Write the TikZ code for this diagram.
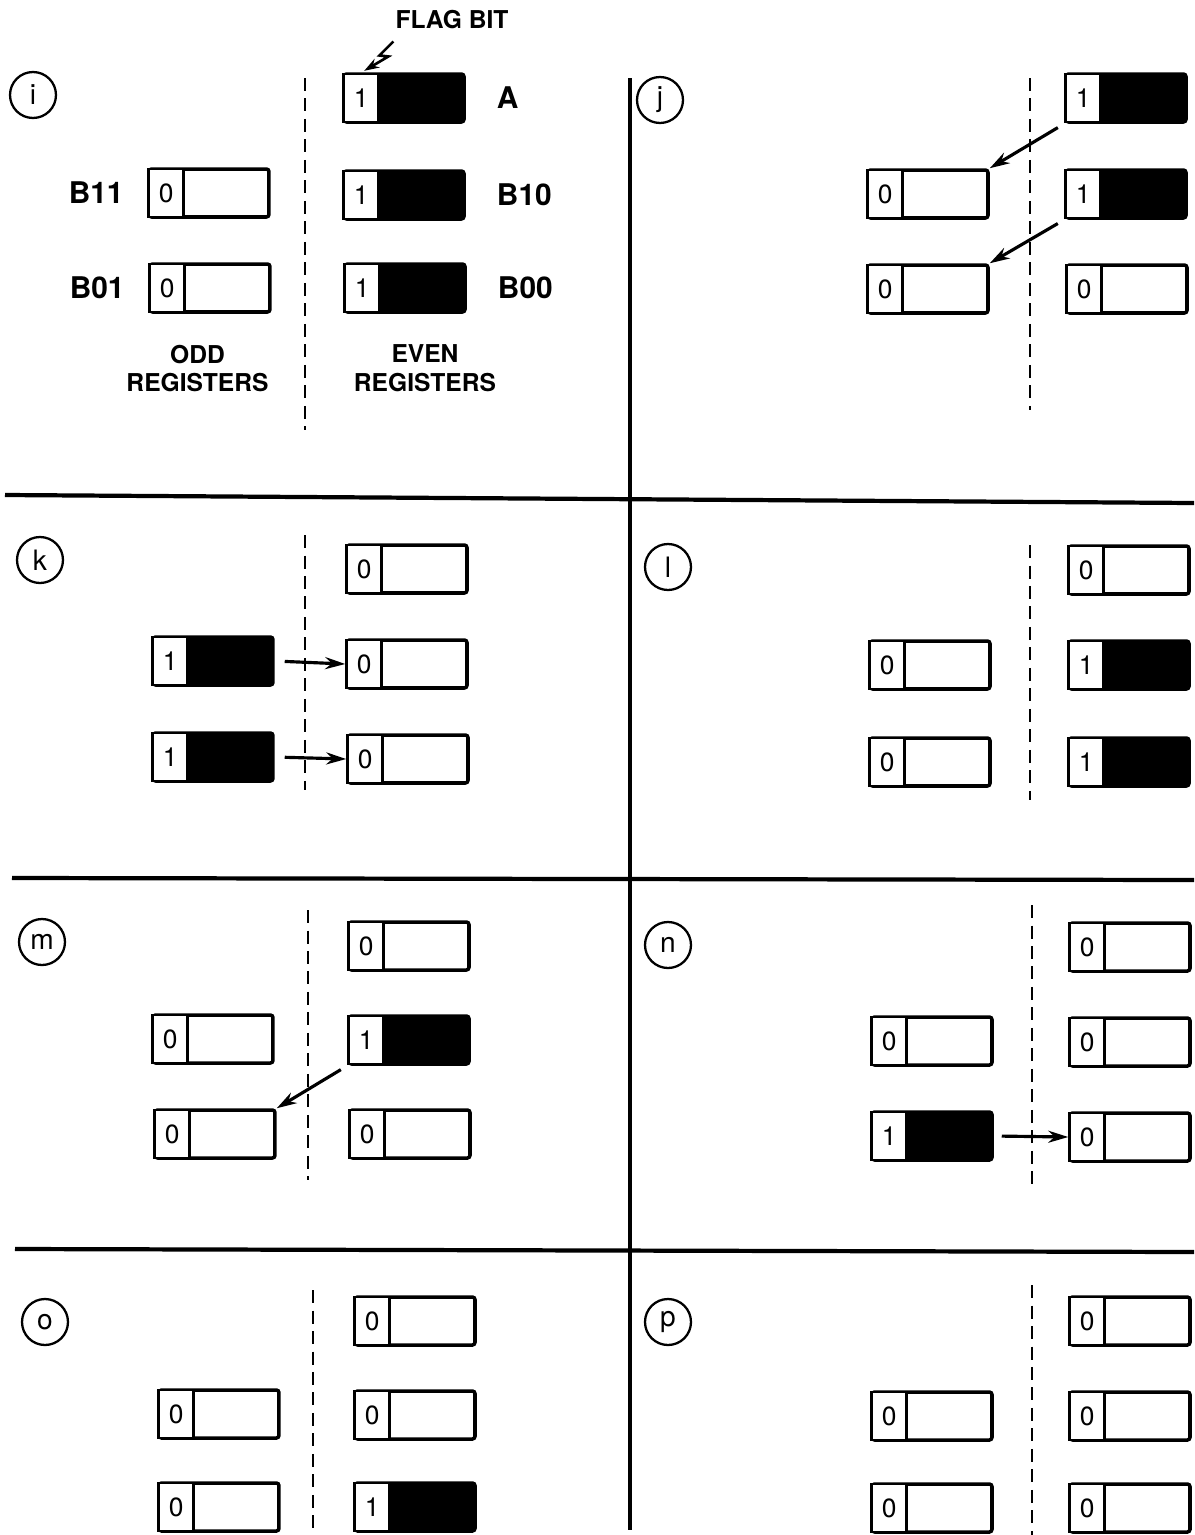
\documentclass[tikz,border=0pt]{standalone}
\usepackage{fontspec}
\setmainfont{TeX Gyre Heros}
\usepackage{tikz}
\usetikzlibrary{positioning,arrows.meta,calc}

\newcommand{\reg}[4]{%
  \node[regbox,bit#4] (#1) at (#2,#3) {};
  \node[flagbox,anchor=west] (#1f) at (#1.west) {#4};
}

\begin{document}
\begin{tikzpicture}[x=0.02cm,y=-0.02cm,
  regbox/.style={draw,line width=2pt,minimum width=2.4cm,minimum height=0.96cm,
    inner sep=0pt,rounded corners=1.5pt},
  bit1/.style={fill=black},
  bit0/.style={fill=white},
  flagbox/.style={draw,line width=1.6pt,fill=white,minimum width=0.7cm,
    minimum height=0.96cm,inner sep=0pt,font=\fontsize{15}{15}\selectfont},
  tag/.style={circle,draw,line width=1.3pt,minimum size=0.92cm,inner sep=0pt,
    font=\fontsize{16}{16}\selectfont},
  reglabel/.style={font=\fontsize{17}{17}\selectfont\bfseries},
  caption/.style={font=\fontsize{14}{16}\selectfont\bfseries,align=center},
  split/.style={line width=2.4pt},
  half/.style={line width=1.5pt,dash pattern=on 0.26cm off 0.15cm},
  arr/.style={line width=1.8pt,-{Stealth[length=0.4cm,width=0.24cm]}}]
\useasboundingbox (0,0) rectangle (1194,1535);

% frame
\draw[split] (630,78) -- (630,1530);
\draw[split] (5,495) -- (1194,503);
\draw[split] (12,878) -- (1194,880);
\draw[split] (15,1249) -- (1194,1252);

\foreach \xx/\ya/\yb in {305/78/430, 1030/78/410, 305/535/790, 1030/545/800,
  308/910/1180, 1032/905/1185, 313/1290/1535, 1032/1285/1535}
  \draw[half] (\xx,\ya) -- (\xx,\yb);

% (i)
\node[tag] (ti) at (33,95) {i};
\reg{iA}{404}{98}{1}
\reg{iB10}{404}{195}{1}
\reg{iB00}{405}{288}{1}
\reg{iB11}{209}{193}{0}
\reg{iB01}{210}{288}{0}
\node[reglabel,right=0.5cm of iA] (lA) {A};
\node[reglabel,right=0.5cm of iB10] (lB10) {B10};
\node[reglabel,right=0.5cm of iB00] (lB00) {B00};
\node[reglabel,left=0.35cm of iB11] (lB11) {B11};
\node[reglabel,left=0.35cm of iB01] (lB01) {B01};
\node[caption,below=0.5cm of iB01,xshift=-0.25cm] (odd) {ODD\\REGISTERS};
\node[caption,below=0.5cm of iB00,xshift=0.4cm] (even) {EVEN\\REGISTERS};
\node[caption] (flag) at (452,20) {FLAG BIT};
\draw[arr,line width=1.5pt,-{Stealth[length=0.3cm,width=0.2cm]},shorten >=2pt]
  ([xshift=0.08cm,yshift=-0.12cm]flag.south west)
  -- ++(-14,14) -- ++(9,1) -- (iAf.north);

% (j)
\node[tag] (tj) at (660,100) {j};
\reg{jE1}{1126}{98}{1}
\reg{jE2}{1126}{194}{1}
\reg{jE3}{1127}{289}{0}
\reg{jO2}{928}{194}{0}
\reg{jO3}{928}{289}{0}
\draw[arr,shorten <=0.15cm] (jE1.south west) -- (jO2.north east);
\draw[arr,shorten <=0.15cm] (jE2.south west) -- (jO3.north east);

% (k)
\node[tag] (tk) at (40,560) {k};
\reg{kE1}{407}{569}{0}
\reg{kE2}{407}{664}{0}
\reg{kE3}{408}{759}{0}
\reg{kO2}{213}{661}{1}
\reg{kO3}{213}{757}{1}
\draw[arr,shorten <=0.2cm] (kO2.east) -- (kE2.west);
\draw[arr,shorten <=0.2cm] (kO3.east) -- (kE3.west);

% (l)
\node[tag] (tl) at (668,567) {l};
\reg{lE1}{1129}{570}{0}
\reg{lE2}{1129}{665}{1}
\reg{lE3}{1129}{762}{1}
\reg{lO2}{930}{665}{0}
\reg{lO3}{930}{762}{0}

% (m)
\node[tag] (tm) at (42,942) {m};
\reg{mE1}{409}{946}{0}
\reg{mE2}{409}{1040}{1}
\reg{mE3}{410}{1134}{0}
\reg{mO2}{213}{1039}{0}
\reg{mO3}{215}{1134}{0}
\draw[arr,shorten <=0.15cm] (mE2.south west) -- (mO3.north east);

% (n)
\node[tag] (tn) at (668,945) {n};
\reg{nE1}{1130}{947}{0}
\reg{nE2}{1130}{1042}{0}
\reg{nE3}{1130}{1137}{0}
\reg{nO2}{932}{1041}{0}
\reg{nO3}{932}{1136}{1}
\draw[arr,shorten <=0.16cm] (nO3.east) -- (nE3.west);

% (o)
\node[tag] (to) at (45,1322) {o};
\reg{oE1}{415}{1321}{0}
\reg{oE2}{415}{1415}{0}
\reg{oE3}{415}{1507}{1}
\reg{oO2}{219}{1414}{0}
\reg{oO3}{219}{1507}{0}

% (p)
\node[tag] (tp) at (668,1322) {p};
\reg{pE1}{1130}{1321}{0}
\reg{pE2}{1130}{1416}{0}
\reg{pE3}{1130}{1508}{0}
\reg{pO2}{932}{1416}{0}
\reg{pO3}{932}{1508}{0}
\end{tikzpicture}
\end{document}
